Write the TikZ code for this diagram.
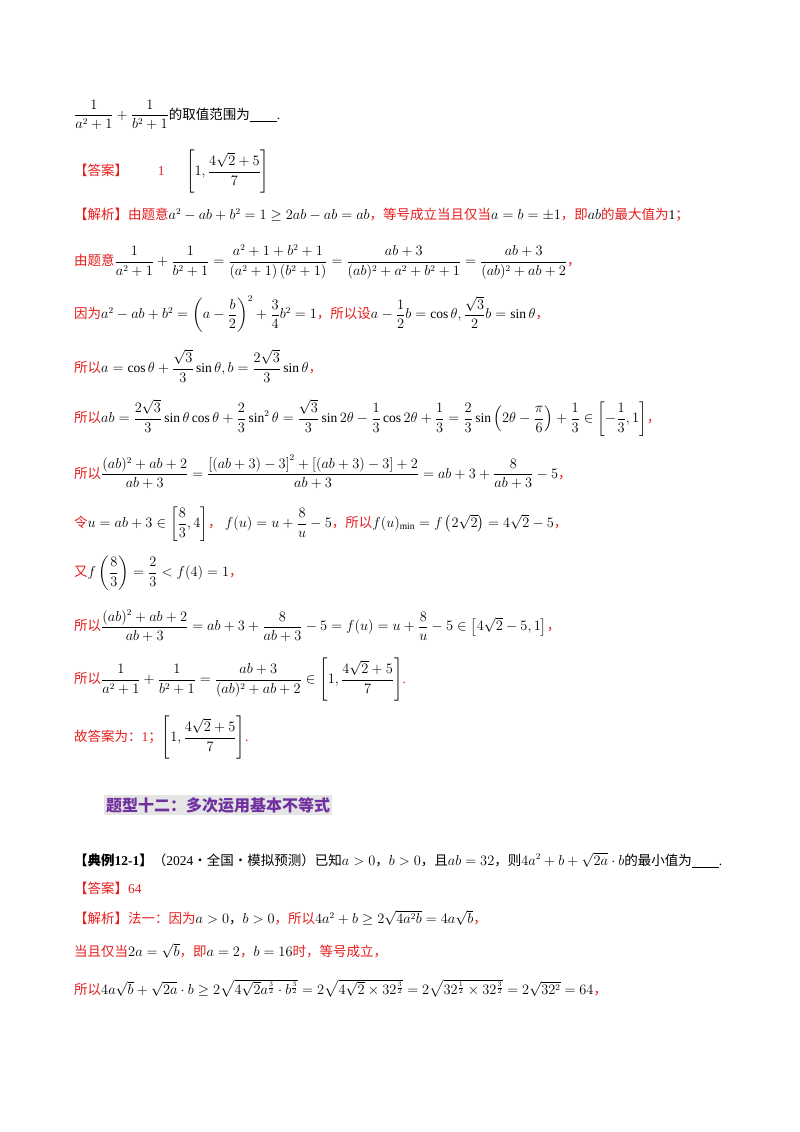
\documentclass[tikz,border=0pt]{standalone}
\usepackage{amsmath}
\usepackage{fontspec}
\setmainfont{Liberation Serif}
\newfontfamily\cjk{Noto Sans CJK SC}
\definecolor{rd}{RGB}{230,30,30}
\definecolor{pu}{RGB}{112,48,160}
\newcommand{\Rz}[1]{\textcolor{rd}{\cjk #1}}
\newcommand{\Kz}[1]{{\cjk #1}}
\begin{document}
\begin{tikzpicture}[x=1pt,y=-1pt,
  ln/.style={anchor=west,inner sep=0pt,font=\fontsize{13.5}{16}\selectfont}]
\useasboundingbox (0,0) rectangle (800,1132);
\fill[white] (0,0) rectangle (800,1132);
\node[ln] (l1) at (74,115) {$\dfrac{1}{a^2+1}+\dfrac{1}{b^2+1}$\Kz{的取值范围为}\underline{\hspace{2em}}.};
\node[ln] (l2) at (74,172) {\Rz{【答案】}\hspace{2.2em}\textcolor{rd}{1}\hspace{1.6em}$\left[1,\dfrac{4\sqrt2+5}{7}\right]$};
\node[ln] (l3) at (74,215) {\Rz{【解析】由题意}$a^2-ab+b^2=1\ge 2ab-ab=ab$\Rz{，等号成立当且仅当}$a=b=\pm1$\Rz{，即}$ab$\Rz{的最大值为}1\Rz{；}};
\node[ln] (l4) at (74,262) {\Rz{由题意}$\dfrac{1}{a^2+1}+\dfrac{1}{b^2+1}=\dfrac{a^2+1+b^2+1}{\left(a^2+1\right)\left(b^2+1\right)}=\dfrac{ab+3}{(ab)^2+a^2+b^2+1}=\dfrac{ab+3}{(ab)^2+ab+2}$\Rz{，}};
\node[ln] (l5) at (74,314) {\Rz{因为}$a^2-ab+b^2=\left(a-\dfrac{b}{2}\right)^2+\dfrac34b^2=1$\Rz{，所以设}$a-\dfrac12b=\cos\theta,\dfrac{\sqrt3}{2}b=\sin\theta$\Rz{，}};
\node[ln] (l6) at (74,366) {\Rz{所以}$a=\cos\theta+\dfrac{\sqrt3}{3}\sin\theta,b=\dfrac{2\sqrt3}{3}\sin\theta$\Rz{，}};
\node[ln] (l7) at (74,418) {\Rz{所以}$ab=\dfrac{2\sqrt3}{3}\sin\theta\cos\theta+\dfrac23\sin^2\theta=\dfrac{\sqrt3}{3}\sin2\theta-\dfrac13\cos2\theta+\dfrac13=\dfrac23\sin\left(2\theta-\dfrac{\pi}{6}\right)+\dfrac13\in\left[-\dfrac13,1\right]$\Rz{，}};
\node[ln] (l8) at (74,472) {\Rz{所以}$\dfrac{(ab)^2+ab+2}{ab+3}=\dfrac{\left[(ab+3)-3\right]^2+\left[(ab+3)-3\right]+2}{ab+3}=ab+3+\dfrac{8}{ab+3}-5$\Rz{，}};
\node[ln] (l9) at (74,524) {\Rz{令}$u=ab+3\in\left[\dfrac83,4\right]$\Rz{，}\ $f(u)=u+\dfrac8u-5$\Rz{，所以}$f(u)_{\min}=f\left(2\sqrt2\right)=4\sqrt2-5$\Rz{，}};
\node[ln] (l10) at (74,573) {\Rz{又}$f\left(\dfrac83\right)=\dfrac23<f(4)=1$\Rz{，}};
\node[ln] (l11) at (74,626) {\Rz{所以}$\dfrac{(ab)^2+ab+2}{ab+3}=ab+3+\dfrac{8}{ab+3}-5=f(u)=u+\dfrac8u-5\in\left[4\sqrt2-5,1\right]$\Rz{，}};
\node[ln] (l12) at (74,680) {\Rz{所以}$\dfrac{1}{a^2+1}+\dfrac{1}{b^2+1}=\dfrac{ab+3}{(ab)^2+ab+2}\in\left[1,\dfrac{4\sqrt2+5}{7}\right]$\textcolor{rd}{.}};
\node[ln] (l13) at (74,738) {\Rz{故答案为：}\textcolor{rd}{1}\Rz{；}$\left[1,\dfrac{4\sqrt2+5}{7}\right]$\textcolor{rd}{.}};
\node[ln,fill=black!10,inner sep=2pt,font=\fontsize{16}{19}\selectfont\cjk\bfseries,text=pu] (h) at (104,805) {题型十二：多次运用基本不等式};
\node[ln] (e1) at (74,860) {\Kz{\bfseries【典例}\textbf{12-1}\Kz{\bfseries】}\Kz{（}2024\Kz{·全国·模拟预测）已知}$a>0$\Kz{，}$b>0$\Kz{，且}$ab=32$\Kz{，则}$4a^2+b+\sqrt{2a}\cdot b$\Kz{的最小值为}\underline{\hspace{2em}}.};
\node[ln] (e2) at (74,888) {\Rz{【答案】}\textcolor{rd}{64}};
\node[ln] (e3) at (74,918) {\Rz{【解析】法一：因为}$a>0$\Kz{，}$b>0$\Rz{，所以}$4a^2+b\ge2\sqrt{4a^2b}=4a\sqrt b$\Rz{，}};
\node[ln] (e4) at (74,951) {\Rz{当且仅当}$2a=\sqrt b$\Rz{，即}$a=2$\Rz{，}$b=16$\Rz{时，等号成立，}};
\node[ln] (e5) at (74,988) {\Rz{所以}$4a\sqrt b+\sqrt{2a}\cdot b\ge2\sqrt{4\sqrt2a^{\frac32}\cdot b^{\frac32}}=2\sqrt{4\sqrt2\times32^{\frac32}}=2\sqrt{32^{\frac12}\times32^{\frac32}}=2\sqrt{32^2}=64$\Rz{，}};
\end{tikzpicture}
\end{document}
